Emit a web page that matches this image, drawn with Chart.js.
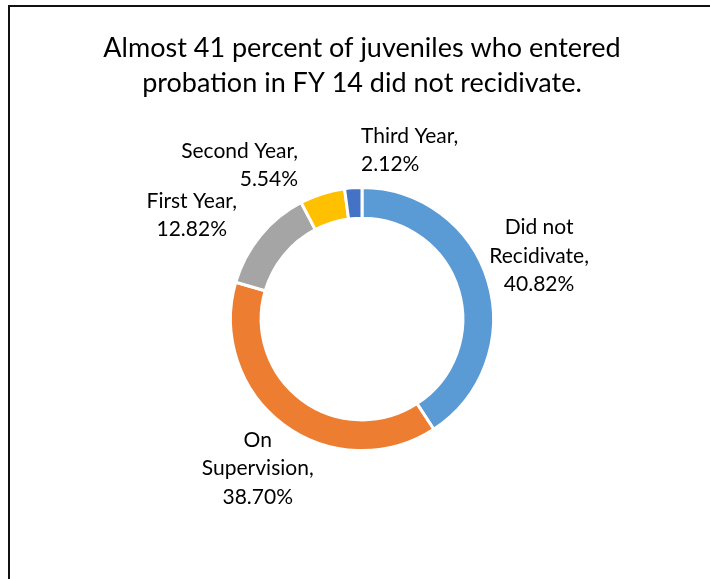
<!DOCTYPE html>
<html>
<head>
<meta charset="utf-8">
<script src="https://cdn.jsdelivr.net/npm/chart.js@4"></script>
<style>
  html, body { margin: 0; padding: 0; background: #fff; overflow: hidden; }
  #frame {
    position: absolute;
    left: 8px;
    top: 5px;
    width: 720px;
    height: 600px;
    border-left: 2px solid #111;
    border-top: 2px solid #111;
  }
  #outcome-chart { display: block; }
</style>
</head>
<body>
<div id="frame">
  <canvas id="outcome-chart" width="710" height="600"></canvas>
</div>
<script>
// Datos del gráfico
const categories = ['Did not Recidivate', 'On Supervision', 'First Year', 'Second Year', 'Third Year'];
const labelLines = [['Did not', 'Recidivate,'], ['On', 'Supervision,'], ['First Year,'], ['Second Year,'], ['Third Year,']];
const percentages = [40.82, 38.70, 12.82, 5.54, 2.12];
const sliceColors = ['#5B9BD5', '#ED7D31', '#A5A5A5', '#FFC000', '#4472C4'];

// Ubicación de las etiquetas: distancia (en radios) y ajuste de ángulo en grados
const labelLayout = [
  { dist: 1.43, shift: -3.1, align: 'center' },
  { dist: 1.385, shift: -1.7, align: 'center' },
  { dist: 1.516, shift: -8.0, align: 'center' },
  { dist: 1.265, shift: -5.0, align: 'right' },
  { dist: 1.285, shift: 3.5, align: 'left' }
];
const LINE_H = 28.5;

// Etiquetas fuera del anillo, a partir de la geometría de cada arco
const sliceLabels = {
  id: 'sliceLabels',
  afterDatasetsDraw(chart) {
    const ctx = chart.ctx;
    const meta = chart.getDatasetMeta(0);
    ctx.save();
    ctx.font = '21px Lato';
    ctx.fillStyle = '#000';
    ctx.textBaseline = 'middle';
    meta.data.forEach((arc, i) => {
      const p = arc.getProps(['x', 'y', 'startAngle', 'endAngle', 'outerRadius'], true);
      const lay = labelLayout[i];
      const a = (p.startAngle + p.endAngle) / 2 + lay.shift * Math.PI / 180;
      const r = p.outerRadius * lay.dist;
      const px = p.x + Math.cos(a) * r;
      const py = p.y + Math.sin(a) * r;
      const lines = [...labelLines[i], percentages[i].toFixed(2) + '%'];
      const top = py - (lines.length - 1) * LINE_H / 2;
      ctx.textAlign = lay.align;
      lines.forEach((t, k) => ctx.fillText(t, px, top + k * LINE_H));
    });
    ctx.restore();
  }
};

const canvas = document.getElementById('outcome-chart');
new Chart(canvas.getContext('2d'), {
  type: 'doughnut',
  data: {
    labels: categories,
    datasets: [{
      data: percentages,
      backgroundColor: sliceColors,
      borderColor: '#fff',
      borderWidth: 3
    }]
  },
  options: {
    responsive: false,
    animation: false,
    radius: 131.5,
    cutout: 98.5,
    // el área queda centrada en x = 352 para que el anillo caiga bajo el título
    layout: { padding: { top: 10, left: 0, right: 6, bottom: 158 } },
    plugins: {
      legend: { display: false },
      tooltip: { enabled: false },
      title: {
        display: true,
        text: ['Almost 41 percent of juveniles who entered', 'probation in FY 14 did not recidivate.'],
        color: '#000',
        font: { family: 'Lato', size: 27, weight: 'normal', lineHeight: 1.3 },
        padding: { top: 13.5, bottom: 88.4 }
      }
    }
  },
  plugins: [sliceLabels]
});
</script>
</body>
</html>
